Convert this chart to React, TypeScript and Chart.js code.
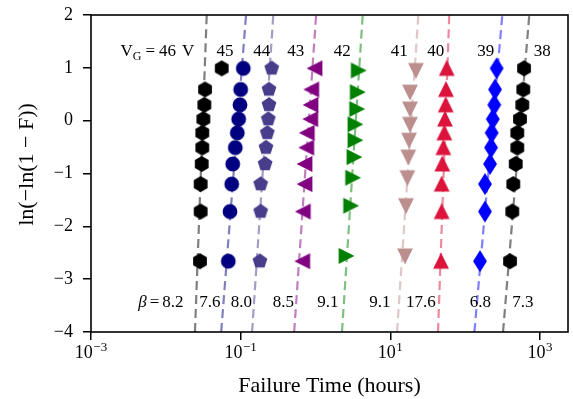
import React, { useEffect, useRef } from 'react';
import { Chart, registerables } from 'chart.js';

Chart.register(...registerables);

// ---------------- data ----------------
const gateVoltages = [46, 45, 44, 43, 42, 41, 40, 39, 38];
const betaValues = ['8.2', '7.6', '8.0', '8.5', '9.1', '9.1', '17.6', '6.8', '7.3'];

// Weibull plotting positions ln(-ln(1-F))
const yRank10 = [-2.66, -1.72, -1.2, -0.82, -0.51, -0.23, 0.03, 0.3, 0.59, 0.99];
const yRank9 = [-2.56, -1.61, -1.08, -0.69, -0.37, -0.07, 0.22, 0.54, 0.95];

// failure times (hours)
const t46 = [0.0286, 0.0292, 0.0292, 0.0302, 0.0307, 0.0307, 0.0317, 0.0327, 0.0334, 0.0558];
const t45 = [0.0684, 0.072, 0.0759, 0.0783, 0.0848, 0.0902, 0.0941, 0.098, 0.1001, 0.1085];
const t44 = [0.181, 0.185, 0.185, 0.212, 0.218, 0.227, 0.234, 0.239, 0.239, 0.26];
const t43 = [0.675, 0.687, 0.724, 0.724, 0.763, 0.777, 0.863, 0.871, 0.89, 0.985];
const t42 = [2.56, 2.95, 3.14, 3.27, 3.37, 3.37, 3.55, 3.62, 3.73];
const t41 = [15.7, 16.2, 16.9, 17.4, 17.8, 18.3, 18.3, 18.3, 22.0];
const t40 = [47.6, 48.6, 48.6, 49.5, 51.1, 52.7, 53.8, 55.0, 55.5, 56.7];
const t39 = [158, 184, 184, 215, 222, 226, 234, 245, 251, 264];
const t38 = [398, 427, 440, 474, 498, 498, 541, 580, 599, 612];

const seriesTimes = [t46, t45, t44, t43, t42, t41, t40, t39, t38];
const seriesRanks = [yRank10, yRank10, yRank10, yRank10, yRank9, yRank9, yRank10, yRank10, yRank10];

// Weibull fit lines: time at ln(-ln(1-F)) = -4 and = 2
const fitY = [-4, 2];
const fitTimeLow = [0.0245, 0.0549, 0.142, 0.519, 2.26, 12.3, 43.4, 133, 321];
const fitTimeHigh = [0.0352, 0.118, 0.273, 1.02, 4.28, 23.7, 61.4, 314, 720];

// axis
const xMin = 0.001;
const xMax = 2370;
const xTickValues = [0.001, 0.1, 10, 1000];
const xTickExponents = ['\u22123', '\u22121', '1', '3'];
const yMin = -4;
const yMax = 2;
const xTitle = 'Failure Time (hours)';
const yTitle = 'ln(\u2212ln(1 \u2212 F))';

// annotation anchors (data coordinates)
const voltageLabelX = [0.00772, 0.0618, 0.1911, 0.5439, 2.282, 13.18, 40.4, 188.2, 1074];
const voltageLabelY = 1.22;
const betaLabelX = [0.00859, 0.0389, 0.102, 0.3713, 1.47, 7.28, 25.7, 160.4, 593];
const betaLabelY = -3.52;

// ---------------- styles ----------------
const markerColors = ['#000000', '#000080', '#483D8B', '#800080', '#008000', '#BC8F8F', '#DC143C', '#0000FF', '#000000'];
const lineColors = [
  'rgba(0,0,0,0.5)', 'rgba(0,0,128,0.5)', 'rgba(72,61,139,0.5)', 'rgba(128,0,128,0.5)', 'rgba(0,128,0,0.5)',
  'rgba(188,143,143,0.5)', 'rgba(220,20,60,0.5)', 'rgba(0,0,255,0.5)', 'rgba(0,0,0,0.5)',
];
const markerShapes = ['hexagon', 'circle', 'pentagon', 'triLeft', 'triRight', 'triDown', 'triUp', 'thinDiamond', 'hexagon'];

const SERIF = '"Liberation Serif", "DejaVu Serif", serif';
const PLOT_BOX = { left: 91, top: 15, right: 568, bottom: 332 };

function makeMarker(shape: string, color: string): HTMLCanvasElement {
  const h = 6.6;
  const size = 26;
  const c = document.createElement('canvas');
  c.width = size;
  c.height = size;
  const ctx = c.getContext('2d')!;
  const cx = size / 2;
  const cy = size / 2;
  ctx.fillStyle = color;
  ctx.strokeStyle = color;
  ctx.lineWidth = 1.6;
  ctx.lineJoin = 'miter';
  ctx.beginPath();
  const poly = (pts: number[][]) => {
    pts.forEach((p, i) => (i === 0 ? ctx.moveTo(cx + p[0], cy + p[1]) : ctx.lineTo(cx + p[0], cy + p[1])));
    ctx.closePath();
  };
  const regular = (n: number, r: number) => {
    const pts: number[][] = [];
    for (let k = 0; k < n; k++) {
      const a = -Math.PI / 2 + (2 * Math.PI * k) / n;
      pts.push([r * Math.cos(a), r * Math.sin(a)]);
    }
    poly(pts);
  };
  switch (shape) {
    case 'circle':
      ctx.arc(cx, cy, h, 0, Math.PI * 2);
      break;
    case 'hexagon':
      regular(6, 7.0);
      break;
    case 'pentagon':
      regular(5, 6.8);
      break;
    case 'triUp':
      poly([[0, -h], [-h, h], [h, h]]);
      break;
    case 'triDown':
      poly([[0, h], [-h, -h], [h, -h]]);
      break;
    case 'triLeft':
      poly([[-h, 0], [h, -h], [h, h]]);
      break;
    case 'triRight':
      poly([[h, 0], [-h, -h], [-h, h]]);
      break;
    case 'thinDiamond':
      poly([[0, -9.6], [6.0, 0], [0, 9.6], [-6.0, 0]]);
      break;
  }
  ctx.fill();
  ctx.stroke();
  return c;
}

type Part = { text: string; font: string; dy?: number; padL?: number; padR?: number };

function drawParts(ctx: CanvasRenderingContext2D, parts: Part[], cx: number, by: number) {
  let total = 0;
  const widths = parts.map((p) => {
    ctx.font = p.font;
    const w = ctx.measureText(p.text).width + (p.padL || 0) + (p.padR || 0);
    total += w;
    return w;
  });
  let x = cx - total / 2;
  parts.forEach((p, i) => {
    ctx.font = p.font;
    ctx.fillText(p.text, x + (p.padL || 0), by + (p.dy || 0));
    x += widths[i];
  });
}

const fixedLayoutPlugin = {
  id: 'fixedLayout',
  afterLayout(chart: any) {
    const b = PLOT_BOX;
    chart.chartArea = { left: b.left, top: b.top, right: b.right, bottom: b.bottom, width: b.right - b.left, height: b.bottom - b.top };
    const xs = chart.scales.x;
    xs.left = b.left;
    xs.right = b.right;
    xs.width = b.right - b.left;
    xs.top = b.bottom;
    xs.bottom = chart.height;
    xs.height = chart.height - b.bottom;
    xs.configure();
    const ys = chart.scales.y;
    ys.left = 0;
    ys.right = b.left;
    ys.width = b.left;
    ys.top = b.top;
    ys.bottom = b.bottom;
    ys.height = b.bottom - b.top;
    ys.configure();
  },
};

const annotationPlugin = {
  id: 'weibullAnnotations',
  afterDatasetsDraw(chart: any) {
    const { ctx, chartArea, scales } = chart;
    const xs = scales.x;
    const ys = scales.y;
    ctx.save();
    // frame
    ctx.strokeStyle = '#000';
    ctx.lineWidth = 1.6;
    ctx.strokeRect(chartArea.left, chartArea.top, chartArea.right - chartArea.left, chartArea.bottom - chartArea.top);

    ctx.fillStyle = '#000';
    ctx.textAlign = 'left';
    ctx.textBaseline = 'alphabetic';
    const big = `17px ${SERIF}`;
    const small = `12px ${SERIF}`;

    // gate voltage labels
    gateVoltages.forEach((v, i) => {
      const px = xs.getPixelForValue(voltageLabelX[i]);
      const py = ys.getPixelForValue(voltageLabelY);
      if (i === 0) {
        drawParts(ctx, [
          { text: 'V', font: big },
          { text: 'G', font: small, dy: 4 },
          { text: '=', font: big, padL: 4, padR: 4 },
          { text: `${v}`, font: big },
          { text: 'V', font: big, padL: 6 },
        ], px, py);
      } else {
        drawParts(ctx, [{ text: `${v}`, font: big }], px, py);
      }
    });

    // beta labels
    betaValues.forEach((b, i) => {
      const px = xs.getPixelForValue(betaLabelX[i]);
      const py = ys.getPixelForValue(betaLabelY);
      if (i === 0) {
        drawParts(ctx, [
          { text: '\u03B2', font: `italic 17px ${SERIF}` },
          { text: '=', font: big, padL: 3, padR: 3 },
          { text: b, font: big },
        ], px, py);
      } else {
        drawParts(ctx, [{ text: b, font: big }], px, py);
      }
    });

    // x tick labels 10^n
    xTickValues.forEach((v, i) => {
      const px = xs.getPixelForValue(v);
      const base = chartArea.bottom + 25.5;
      drawParts(ctx, [
        { text: '10', font: `18px ${SERIF}` },
        { text: xTickExponents[i], font: `13px ${SERIF}`, dy: -7, padL: 0.5 },
      ], px, base);
    });

    // x axis title
    ctx.textAlign = 'center';
    ctx.font = `22px ${SERIF}`;
    ctx.fillText(xTitle, (chartArea.left + chartArea.right) / 2, chart.height - 7);

    // y axis title
    ctx.save();
    ctx.translate(27, (chartArea.top + chartArea.bottom) / 2 - 9);
    ctx.rotate(-Math.PI / 2);
    ctx.textAlign = 'center';
    ctx.textBaseline = 'middle';
    ctx.font = `22px ${SERIF}`;
    ctx.fillText(yTitle, 0, 0);
    ctx.restore();

    ctx.restore();
  },
};

export default function App() {
  const ref = useRef<HTMLCanvasElement | null>(null);

  useEffect(() => {
    if (!ref.current) return;
    Chart.defaults.color = '#000';

    const scatterSets = seriesTimes.map((ts, i) => ({
      label: `VG=${gateVoltages[i]} V`,
      data: ts.map((t, k) => ({ x: t, y: seriesRanks[i][k] })),
      showLine: false,
      pointStyle: makeMarker(markerShapes[i], markerColors[i]) as any,
      pointRadius: 7,
      pointHoverRadius: 7,
      backgroundColor: markerColors[i],
      borderColor: markerColors[i],
      order: 1,
    }));

    const fitSets = gateVoltages.map((v, i) => ({
      label: `fit ${v}`,
      data: [
        { x: fitTimeLow[i], y: fitY[0] },
        { x: fitTimeHigh[i], y: fitY[1] },
      ],
      showLine: true,
      pointRadius: 0,
      borderColor: lineColors[i],
      borderWidth: 2.2,
      borderDash: [9, 5],
      order: 2,
    }));

    const tickGrid = {
      display: true,
      drawOnChartArea: false,
      drawTicks: true,
      tickLength: 8,
      tickWidth: 1.5,
      tickColor: '#000',
      lineWidth: 1.5,
      color: '#000',
    };

    const chart = new Chart(ref.current, {
      type: 'scatter',
      data: { datasets: [...fitSets, ...scatterSets] as any },
      options: {
        responsive: false,
        animation: false,
        events: [],
        plugins: { legend: { display: false }, tooltip: { enabled: false } },
        scales: {
          x: {
            type: 'logarithmic',
            min: xMin,
            max: xMax,
            afterBuildTicks: (scale: any) => {
              scale.ticks = xTickValues.map((v) => ({ value: v }));
            },
            ticks: { callback: () => '', padding: 0, font: { family: SERIF, size: 18 } },
            grid: tickGrid,
            border: { display: false },
            title: { display: false },
          },
          y: {
            type: 'linear',
            min: yMin,
            max: yMax,
            afterBuildTicks: (scale: any) => {
              const t = [];
              for (let v = yMin; v <= yMax; v++) t.push({ value: v });
              scale.ticks = t;
            },
            ticks: {
              padding: 10,
              color: '#000',
              font: { family: SERIF, size: 18 },
              callback: (v: any) => (Number(v) < 0 ? '\u2212' + Math.abs(Number(v)) : String(v)),
            },
            grid: tickGrid,
            border: { display: false },
            title: { display: false },
          },
        },
      },
      plugins: [fixedLayoutPlugin, annotationPlugin],
    });
    return () => chart.destroy();
  }, []);

  return (
    <div style={{ position: 'fixed', left: 0, top: 0, width: 573, height: 399, background: '#fff' }}>
      <canvas ref={ref} width={573} height={399} style={{ display: 'block' }} />
    </div>
  );
}
